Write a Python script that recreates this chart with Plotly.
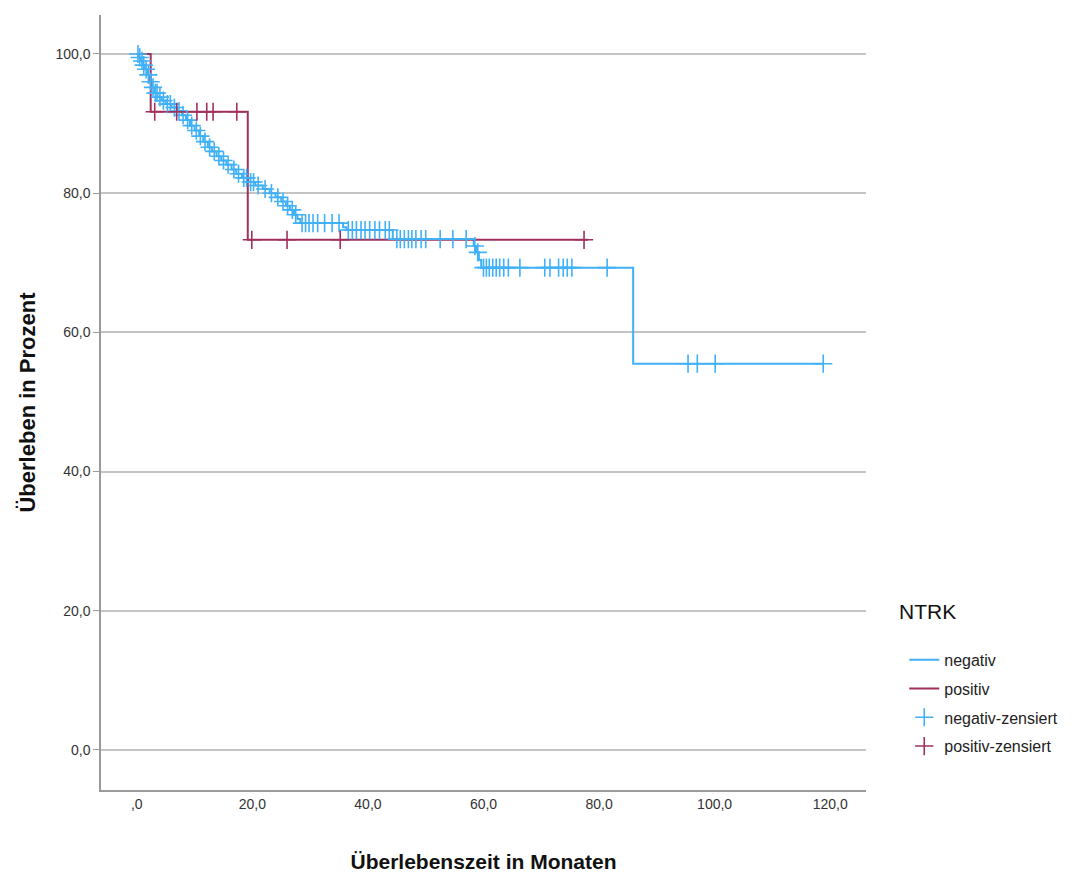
import numpy as np
import plotly.graph_objects as go

# ---- data ----
neg_step_t = [0, 0.3, 0.7, 1.0, 1.4, 1.8, 2.2, 2.6, 3.0, 3.6, 4.3, 5.0, 6.0, 7.0, 7.8, 8.5,
              9.2, 10.0, 10.8, 11.5, 12.3, 13.0, 13.8, 14.6, 15.5, 16.4, 17.2, 18.2, 19.3,
              20.5, 21.8, 23.0, 24.0, 25.0, 25.8, 26.5, 27.2, 27.8, 28.3, 35.7, 36.3, 44.3,
              58.3, 58.7, 59.2, 59.6, 85.9]
neg_step_s = [100.0, 99.5, 99.0, 98.4, 97.8, 97.0, 96.0, 95.2, 94.4, 93.8, 93.3, 92.8, 92.3,
              91.8, 91.2, 90.5, 89.7, 89.0, 88.2, 87.4, 86.6, 86.0, 85.3, 84.7, 84.1, 83.4,
              82.8, 82.2, 81.6, 81.1, 80.6, 80.0, 79.4, 78.8, 78.2, 77.6, 76.9, 76.3, 75.7,
              75.1, 74.7, 73.4, 72.4, 71.5, 70.4, 69.3, 55.5]
neg_end = 118.8
neg_cens_t = [0.2, 0.5, 0.9, 1.2, 1.6, 2.0, 2.4, 2.8, 3.2, 3.5, 4.0, 4.6, 5.3, 5.8, 6.5, 7.3,
              8.0, 8.8, 9.5, 10.3, 11.0, 11.8, 12.6, 13.4, 14.2, 15.0, 15.8, 16.8, 17.6, 18.5,
              19.0, 19.7, 20.2, 21.0, 22.2, 23.3, 24.4, 25.3, 26.1, 26.9, 27.5, 28.6, 29.2,
              29.8, 30.5, 31.3, 32.5, 33.8, 35.0, 36.6, 37.3, 38.0, 38.8, 39.5, 40.3, 41.2,
              42.0, 43.0, 43.7, 45.0, 45.6, 46.3, 47.0, 47.6, 48.3, 49.2, 50.0, 52.5, 54.7,
              57.0, 58.5, 59.0, 60.0, 60.5, 61.0, 61.6, 62.2, 62.8, 63.5, 64.3, 66.3, 70.6,
              71.5, 73.0, 73.8, 74.5, 75.3, 81.4, 95.4, 97.0, 100.1, 118.8]

pos_step_t = [0, 2.4, 19.2]
pos_step_s = [100.0, 91.7, 73.3]
pos_end = 78.1
pos_cens_t = [3.1, 6.9, 10.4, 12.1, 13.2, 17.3, 19.9, 26.0, 35.2, 77.4]

x_ticks = [0, 20, 40, 60, 80, 100, 120]
x_tick_text = [",0", "20,0", "40,0", "60,0", "80,0", "100,0", "120,0"]
y_ticks = [0, 20, 40, 60, 80, 100]
y_tick_text = ["0,0", "20,0", "40,0", "60,0", "80,0", "100,0"]

BLUE = "#41b1f7"
RED = "#a0305c"
FONT = "Liberation Sans, Arial, sans-serif"


def step_value(ts, ss, t):
    i = np.searchsorted(np.array(ts), t, side="right") - 1
    return np.array(ss)[i]


fig = go.Figure()
fig.add_trace(go.Scatter(x=neg_step_t + [neg_end], y=neg_step_s + [neg_step_s[-1]],
                         mode="lines", line=dict(color=BLUE, width=2, shape="hv"),
                         name="negativ", legendgroup="a"))
fig.add_trace(go.Scatter(x=pos_step_t + [pos_end], y=pos_step_s + [pos_step_s[-1]],
                         mode="lines", line=dict(color=RED, width=2, shape="hv"),
                         name="positiv", legendgroup="b"))
fig.add_trace(go.Scatter(x=neg_cens_t, y=step_value(neg_step_t, neg_step_s, neg_cens_t),
                         mode="markers",
                         marker=dict(symbol="cross-thin", size=13, line=dict(color=BLUE, width=1.6)),
                         name="negativ-zensiert", legendgroup="c"))
fig.add_trace(go.Scatter(x=pos_cens_t, y=step_value(pos_step_t, pos_step_s, pos_cens_t),
                         mode="markers",
                         marker=dict(symbol="cross-thin", size=13, line=dict(color=RED, width=1.6)),
                         name="positiv-zensiert", legendgroup="d"))

fig.add_annotation(text="NTRK", xref="paper", yref="paper", x=1.04, y=0.23,
                   xanchor="left", yanchor="middle", showarrow=False,
                   font=dict(size=21, color="#111", family=FONT))

fig.update_layout(
    width=1067, height=866,
    margin=dict(l=93, r=209, t=7, b=84, autoexpand=False),
    paper_bgcolor="white", plot_bgcolor="white",
    font=dict(family=FONT, color="#333"),
    legend=dict(
        x=1.05, y=0.19, xanchor="left", yanchor="top",
        font=dict(size=16, family=FONT, color="#222"),
        tracegroupgap=5, itemwidth=30,
    ),
    xaxis=dict(
        range=[-6.2, 126.2], tickvals=x_ticks, ticktext=x_tick_text, automargin=False,
        showgrid=False, zeroline=False, showline=True, linecolor="#9a9a9a", linewidth=1.5,
        ticks="", tickfont=dict(size=14, color="#333"),
        title=dict(text="<b>Überlebenszeit in Monaten</b>", standoff=44,
                   font=dict(size=21, color="#111")),
    ),
    yaxis=dict(
        range=[-5.75, 105.6], tickvals=y_ticks, ticktext=y_tick_text, automargin=False,
        showgrid=True, gridcolor="#c4c4c4", gridwidth=1.5, zeroline=False,
        showline=True, linecolor="#9a9a9a", linewidth=1.5,
        ticks="outside", ticklen=6, tickcolor="#9a9a9a",
        tickfont=dict(size=14, color="#333"),
        title=dict(text="<b>Überleben in Prozent</b>", standoff=14,
                   font=dict(size=22, color="#111")),
    ),
)

fig.write_html("out.html")
